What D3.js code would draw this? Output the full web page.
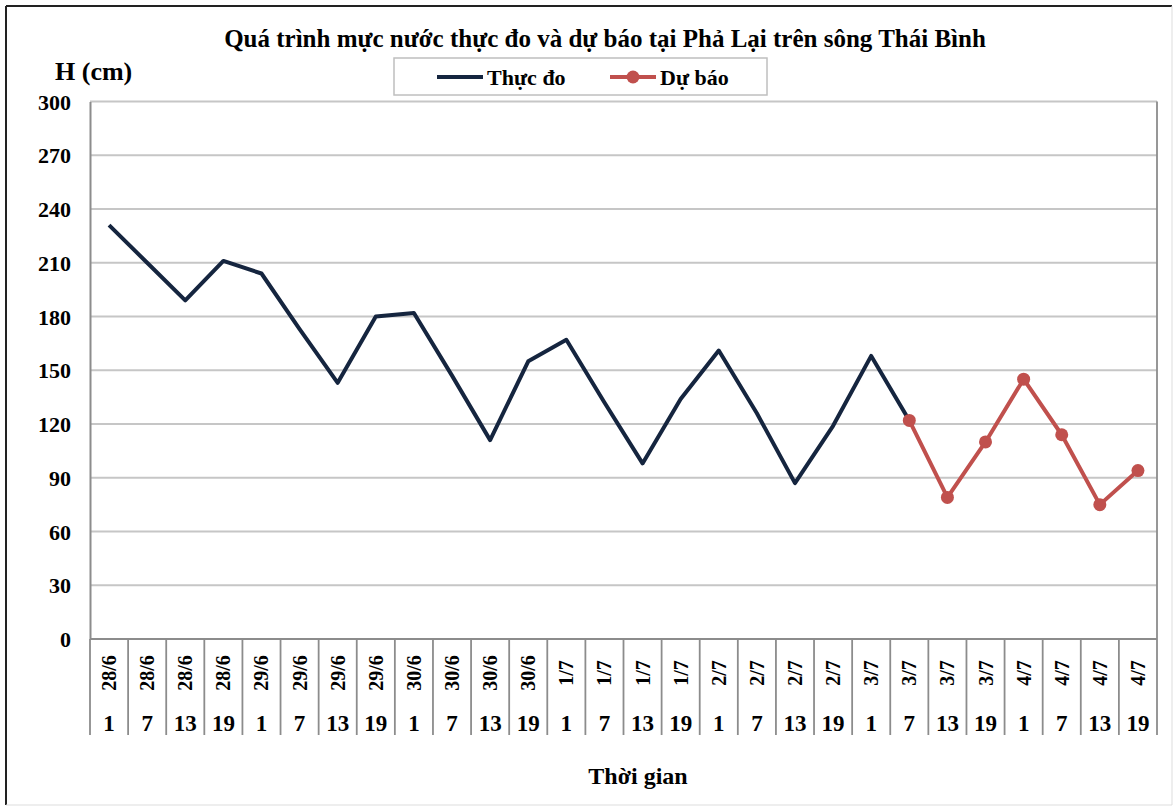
<!DOCTYPE html>
<html>
<head>
<meta charset="utf-8">
<script src="https://cdn.jsdelivr.net/npm/d3@7"></script>
<style>
  body { margin: 0; background: #fff; }
  text { font-family: "Liberation Serif", "Times New Roman", serif; font-weight: bold; fill: #000; }
</style>
</head>
<body>
<div class="chart"></div>
<script>
// categories: day labels and hour labels
var days = ["28/6","28/6","28/6","28/6","29/6","29/6","29/6","29/6","30/6","30/6","30/6","30/6",
            "1/7","1/7","1/7","1/7","2/7","2/7","2/7","2/7","3/7","3/7","3/7","3/7","4/7","4/7","4/7","4/7"];
var hours = ["1","7","13","19","1","7","13","19","1","7","13","19",
             "1","7","13","19","1","7","13","19","1","7","13","19","1","7","13","19"];

// water levels, cm (null where the series has no value)
var observed = [231, 210, 189, 211, 204, 173, 143, 180, 182, 147, 111, 155,
                167, 132, 98, 134, 161, 126, 87, 119, 158, 122, null, null, null, null, null, null];
var forecast = [null, null, null, null, null, null, null, null, null, null, null, null,
                null, null, null, null, null, null, null, null, null, 122, 79, 110, 145, 114, 75, 94];

var yTicks = [0, 30, 60, 90, 120, 150, 180, 210, 240, 270, 300];

var width = 1173, height = 806,
    margin = {top: 101.5, right: 16, bottom: 167, left: 90};
var plotW = width - margin.left - margin.right,
    plotH = height - margin.top - margin.bottom;

var svg = d3.select(".chart").append("svg")
  .attr("width", width)
  .attr("height", height);

// outer frame
svg.append("line").attr("x1", 6).attr("y1", 6).attr("x2", 6).attr("y2", 805).attr("stroke", "#222").attr("stroke-width", 2);
svg.append("line").attr("x1", 6).attr("y1", 6).attr("x2", 1172).attr("y2", 6).attr("stroke", "#222").attr("stroke-width", 2);
svg.append("line").attr("x1", 1172).attr("y1", 6).attr("x2", 1172).attr("y2", 805).attr("stroke", "#ddd").attr("stroke-width", 1);
svg.append("line").attr("x1", 6).attr("y1", 805).attr("x2", 1172).attr("y2", 805).attr("stroke", "#ddd").attr("stroke-width", 1);

var g = svg.append("g").attr("transform", `translate(${margin.left},${margin.top})`);

var idx = d3.range(days.length);
var xScale = d3.scaleBand().domain(idx).range([0, plotW]).padding(0);
var yScale = d3.scaleLinear().domain([0, 300]).range([plotH, 0]);
var xc = i => xScale(i) + xScale.bandwidth() / 2;

// gridlines
g.selectAll(".grid").data(yTicks.filter(d => d > 0))
  .enter().append("line")
  .attr("x1", 0).attr("x2", plotW)
  .attr("y1", d => yScale(d)).attr("y2", d => yScale(d))
  .attr("stroke", "#c6c6c6").attr("stroke-width", 1.8);

// right edge of plot
g.append("line").attr("x1", plotW).attr("x2", plotW).attr("y1", 0).attr("y2", plotH)
  .attr("stroke", "#8c8c8c").attr("stroke-width", 1.8);

// y axis
var yAxis = g.append("g").call(d3.axisLeft(yScale).tickValues(yTicks).tickSize(0).tickPadding(19));
yAxis.select(".domain").attr("stroke", "#8c8c8c").attr("stroke-width", 2);
yAxis.selectAll("text").style("font-size", "22px").attr("dy", "0.35em");

// x axis: lines between categories going down past labels
var xAxis = g.append("g").attr("transform", `translate(0,${plotH})`);
xAxis.append("line").attr("x1", 0).attr("x2", plotW).attr("y1", 0).attr("y2", 0)
  .attr("stroke", "#8c8c8c").attr("stroke-width", 2);
xAxis.selectAll(".sep").data(idx.concat([days.length]))
  .enter().append("line")
  .attr("x1", d => d < days.length ? xScale(d) : plotW)
  .attr("x2", d => d < days.length ? xScale(d) : plotW)
  .attr("y1", 0).attr("y2", 96)
  .attr("stroke", "#8c8c8c").attr("stroke-width", 1.8);

xAxis.selectAll(".day").data(idx)
  .enter().append("text")
  .attr("text-anchor", "middle")
  .attr("transform", d => `translate(${xc(d) + 7},34)rotate(-90)`)
  .style("font-size", "20px")
  .text(d => days[d]);

xAxis.selectAll(".hour").data(idx)
  .enter().append("text")
  .attr("text-anchor", "middle")
  .attr("x", d => xc(d))
  .attr("y", 92)
  .style("font-size", "23px")
  .text(d => hours[d]);

// series lines
var line = d3.line()
  .defined(d => d != null)
  .x((d, i) => xc(i))
  .y(d => yScale(d));

g.append("path").datum(observed)
  .attr("fill", "none").attr("stroke", "#15253f").attr("stroke-width", 4)
  .attr("stroke-linejoin", "round")
  .attr("d", line);

g.append("path").datum(forecast)
  .attr("fill", "none").attr("stroke", "#c0504d").attr("stroke-width", 4)
  .attr("stroke-linejoin", "round")
  .attr("d", line);

g.selectAll(".dot").data(idx.filter(i => forecast[i] != null))
  .enter().append("circle")
  .attr("cx", i => xc(i)).attr("cy", i => yScale(forecast[i]))
  .attr("r", 6.5).attr("fill", "#c0504d");

// titles
svg.append("text").attr("x", 605).attr("y", 47).attr("text-anchor", "middle")
  .style("font-size", "25px")
  .text("Quá trình mực nước thực đo và dự báo tại Phả Lại trên sông Thái Bình");

svg.append("text").attr("x", 55).attr("y", 80)
  .style("font-size", "26px")
  .text("H (cm)");

svg.append("text").attr("x", 638).attr("y", 784).attr("text-anchor", "middle")
  .style("font-size", "24px")
  .text("Thời gian");

// legend
var legend = svg.append("g");
legend.append("rect").attr("x", 394).attr("y", 58).attr("width", 373).attr("height", 37)
  .attr("fill", "#fff").attr("stroke", "#bfbfbf").attr("stroke-width", 1.5);

var items = [
  {name: "Thực đo", color: "#15253f", marker: false, x: 437},
  {name: "Dự báo", color: "#c0504d", marker: true, x: 610}
];
var li = legend.selectAll(".item").data(items).enter().append("g")
  .attr("transform", d => `translate(${d.x},77)`);
li.append("line").attr("x1", 0).attr("x2", 46).attr("y1", 0).attr("y2", 0)
  .attr("stroke", d => d.color).attr("stroke-width", 4);
li.filter(d => d.marker).append("circle").attr("cx", 23).attr("cy", 0).attr("r", 6.5)
  .attr("fill", d => d.color);
li.append("text").attr("x", 50).attr("y", 8).style("font-size", "22px").text(d => d.name);
</script>
</body>
</html>
